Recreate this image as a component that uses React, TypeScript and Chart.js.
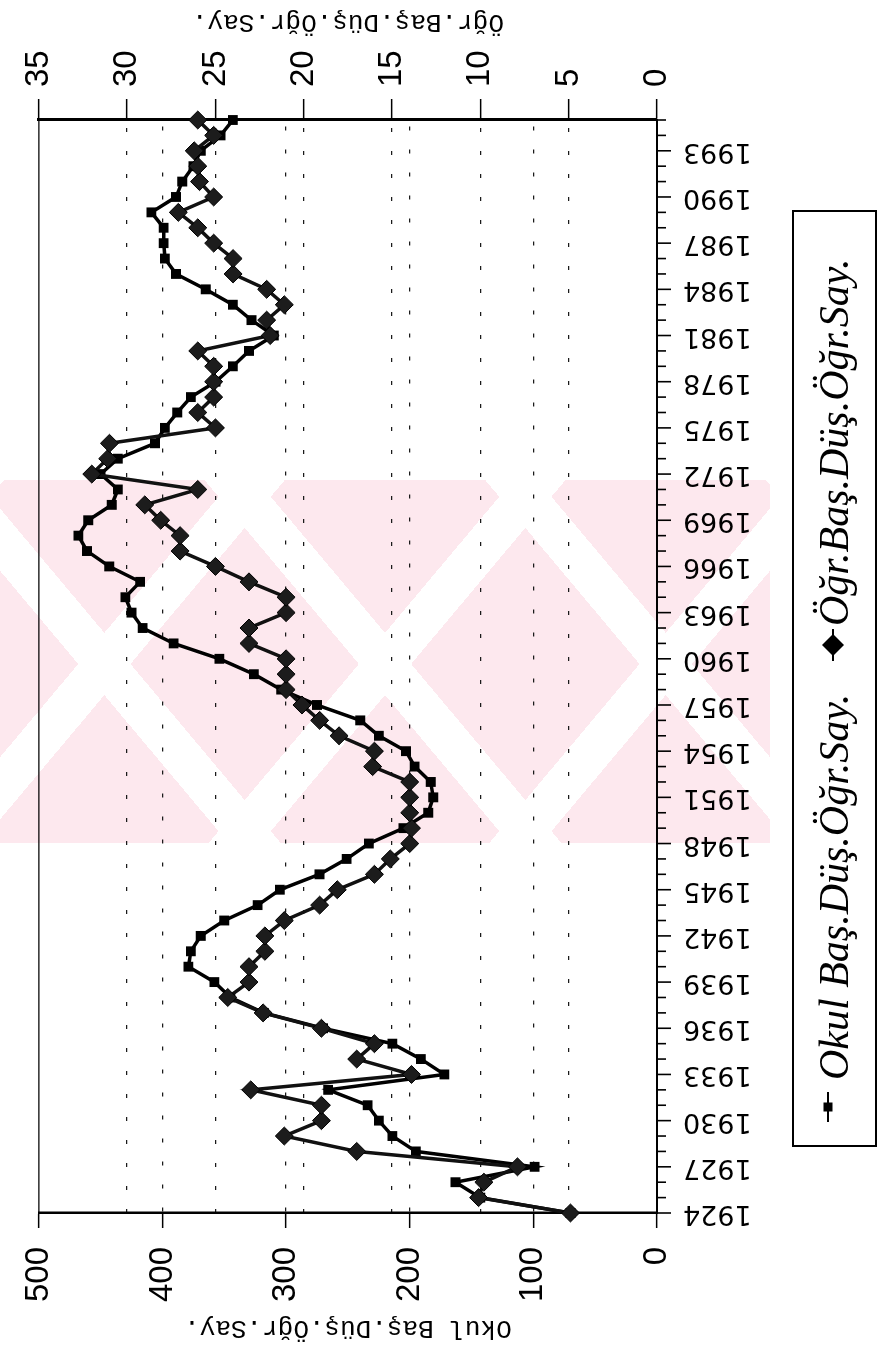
import React, { useEffect, useRef } from 'react';
import { Chart, registerables } from 'chart.js';

Chart.register(...registerables);

const years = [
  '1924', '1925', '1926', '1927', '1928', '1929', '1930', '1931', '1932', '1933',
  '1934', '1935', '1936', '1937', '1938', '1939', '1940', '1941', '1942', '1943',
  '1944', '1945', '1946', '1947', '1948', '1949', '1950', '1951', '1952', '1953',
  '1954', '1955', '1956', '1957', '1958', '1959', '1960', '1961', '1962', '1963',
  '1964', '1965', '1966', '1967', '1968', '1969', '1970', '1971', '1972', '1973',
  '1974', '1975', '1976', '1977', '1978', '1979', '1980', '1981', '1982', '1983',
  '1984', '1985', '1986', '1987', '1988', '1989', '1990', '1991', '1992', '1993',
  '1994', '1995',
];

// Okul Baş.Düş.Öğr.Say. (left axis, 0-500)
const okulValues = [
  70, 143, 163, 99, 195, 214, 225, 234, 266, 172,
  191, 214, 270, 318, 345, 358, 379, 377, 369, 350,
  323, 305, 273, 251, 233, 205, 185, 181, 183, 196,
  203, 225, 240, 275, 304, 326, 354, 391, 416, 425,
  430, 418, 443, 461, 468, 460, 441, 436, 450, 436,
  406, 398, 388, 377, 357, 343, 330, 310, 328, 343,
  365, 389, 398, 399, 399, 409, 389, 384, 375, 369,
  353, 343,
];

// Öğr.Baş.Düş.Öğr.Say. (right axis, 0-35)
const ogrValues = [
  4.9, 10.1, 9.8, 7.9, 17.0, 21.1, 19.0, 19.0, 23.0, 13.9,
  17.0, 16.0, 19.0, 22.3, 24.3, 23.1, 23.1, 22.2, 22.2, 21.1,
  19.1, 18.1, 16.0, 15.1, 14.0, 13.9, 14.0, 14.0, 14.0, 16.1,
  16.0, 18.0, 19.1, 20.1, 21.0, 21.0, 21.0, 23.1, 23.1, 21.0,
  21.0, 23.1, 25.0, 27.0, 27.0, 28.1, 29.0, 26.0, 32.0, 31.1,
  31.0, 25.0, 26.0, 25.1, 25.1, 25.1, 26.0, 21.9, 22.1, 21.1,
  22.1, 24.0, 24.0, 25.1, 26.0, 27.1, 25.1, 25.9, 26.0, 26.2,
  25.1, 26.0,
];

const okulTickValues = [0, 100, 200, 300, 400, 500];
const ogrTickValues = [0, 5, 10, 15, 20, 25, 30, 35];

const okulLabel = 'Okul Baş.Düş.Öğr.Say.';
const ogrLabel = 'Öğr.Baş.Düş.Öğr.Say.';

const W = 1355;
const H = 880;

const decorPlugin = {
  id: 'decor',
  afterDraw(chart: any) {
    const { ctx, chartArea, scales } = chart;
    const xs = scales.x;
    ctx.save();
    // thin frame line (top of plot area)
    ctx.strokeStyle = '#000';
    ctx.lineWidth = 1.2;
    ctx.beginPath();
    ctx.moveTo(chartArea.left, chartArea.top);
    ctx.lineTo(chartArea.right, chartArea.top);
    ctx.stroke();

    // year tick marks: minor each year, major every 3 years
    ctx.lineWidth = 1.6;
    for (let i = 0; i < years.length; i++) {
      const px = xs.getPixelForValue(i);
      const len = i % 3 === 0 ? 14 : 9;
      ctx.beginPath();
      ctx.moveTo(px, chartArea.bottom);
      ctx.lineTo(px, chartArea.bottom + len);
      ctx.stroke();
    }

    // axis titles (both read bottom-to-top in canvas space)
    ctx.fillStyle = '#000';
    ctx.font = '26px "Liberation Mono"';
    ctx.textAlign = 'center';
    ctx.textBaseline = 'middle';
    const cy = (chartArea.top + chartArea.bottom) / 2;
    ctx.save();
    ctx.translate(27, cy);
    ctx.rotate(-Math.PI / 2);
    ctx.fillText(okulLabel, 0, 0);
    ctx.restore();
    ctx.save();
    ctx.translate(1333, cy);
    ctx.rotate(-Math.PI / 2);
    ctx.fillText(ogrLabel, 0, 0);
    ctx.restore();

    // legend box
    const bx1 = 209, bx2 = 1144, by1 = 793, by2 = 876;
    ctx.lineWidth = 2;
    ctx.strokeRect(bx1, by1, bx2 - bx1, by2 - by1);
    const baseY = 848;
    // Okul marker
    const m1 = 828;
    ctx.lineWidth = 2;
    ctx.beginPath();
    ctx.moveTo(233, m1);
    ctx.lineTo(263, m1);
    ctx.stroke();
    ctx.fillRect(248 - 4.5, m1 - 4.5, 9, 9);
    ctx.font = 'italic 42px "Liberation Serif"';
    ctx.textAlign = 'left';
    ctx.textBaseline = 'alphabetic';
    ctx.fillText(okulLabel, 275, baseY);
    // Öğr marker
    const m2 = 833;
    ctx.beginPath();
    ctx.moveTo(694, m2);
    ctx.lineTo(726, m2);
    ctx.stroke();
    ctx.beginPath();
    ctx.moveTo(710, m2 - 11);
    ctx.lineTo(721, m2);
    ctx.lineTo(710, m2 + 11);
    ctx.lineTo(699, m2);
    ctx.closePath();
    ctx.fill();
    ctx.fillText(ogrLabel, 729, baseY);
    ctx.restore();
  },
};

const gridColor = (edge: number) => (c: any) =>
  c.tick && (c.tick.value === 0 || c.tick.value === edge) ? 'rgba(0,0,0,0)' : '#1a1a1a';

export default function App() {
  const ref = useRef<HTMLCanvasElement | null>(null);

  useEffect(() => {
    if (!ref.current) return;
    const chart = new Chart(ref.current, {
      type: 'line',
      data: {
        labels: years,
        datasets: [
          {
            label: ogrLabel,
            data: ogrValues,
            yAxisID: 'y2',
            borderColor: '#111',
            backgroundColor: '#1c1c1c',
            borderWidth: 3.5,
            pointStyle: 'rectRot',
            pointRadius: 9,
            pointBorderWidth: 1,
            pointBorderColor: '#000',
            tension: 0,
            clip: false,
            order: 1,
          },
          {
            label: okulLabel,
            data: okulValues,
            yAxisID: 'y',
            borderColor: '#000',
            backgroundColor: '#000',
            borderWidth: 3.5,
            pointStyle: 'rect',
            pointRadius: 4.5,
            tension: 0,
            clip: false,
            order: 2,
          },
        ],
      },
      options: {
        responsive: false,
        animation: false,
        devicePixelRatio: 1,
        layout: { padding: { top: 25, left: 0, right: 0, bottom: 0 } },
        plugins: { legend: { display: false }, tooltip: { enabled: false } },
        scales: {
          x: {
            type: 'category',
            offset: false,
            grid: { display: false },
            border: { display: true, color: '#000', width: 2 },
            ticks: {
              autoSkip: false,
              minRotation: 90,
              maxRotation: 90,
              padding: 18,
              color: '#000',
              font: { family: 'DejaVu Sans', size: 27 },
              callback: (_v: any, i: number) => (i % 3 === 0 ? years[i] : ''),
            },
            afterFit: (s: any) => {
              s.height = 223;
            },
          },
          y: {
            position: 'left',
            min: 0,
            max: 500,
            afterBuildTicks: (s: any) => {
              s.ticks = okulTickValues.map((v) => ({ value: v }));
            },
            ticks: {
              padding: 19,
              color: '#000',
              font: { family: 'Liberation Sans', size: 33 },
            },
            grid: {
              color: gridColor(500),
              lineWidth: 1.3,
              tickLength: 15,
              tickColor: '#000',
              tickWidth: 1.5,
            },
            border: { display: true, color: '#000', width: 2.5, dash: [4, 19] },
            afterFit: (s: any) => {
              s.width = 142;
            },
          },
          y2: {
            position: 'right',
            min: 0,
            max: 35,
            afterBuildTicks: (s: any) => {
              s.ticks = ogrTickValues.map((v) => ({ value: v }));
            },
            ticks: {
              padding: 12,
              color: '#000',
              font: { family: 'Liberation Sans', size: 33 },
            },
            grid: {
              color: gridColor(35),
              lineWidth: 1.3,
              tickLength: 21,
              tickColor: '#000',
              tickWidth: 1.5,
            },
            border: { display: true, color: '#000', width: 3, dash: [4, 19] },
            afterFit: (s: any) => {
              s.width = 120;
            },
          },
        },
      },
      plugins: [decorPlugin],
    } as any);
    return () => chart.destroy();
  }, []);

  return (
    <div
      style={{
        position: 'fixed',
        left: 0,
        top: 0,
        width: 880,
        height: 1355,
        overflow: 'hidden',
        background: '#fff',
      }}
    >
      <div
        style={{
          position: 'absolute',
          left: 0,
          top: 480,
          width: 770,
          height: 363,
          backgroundColor: '#fde8ee',
          backgroundImage:
            'repeating-linear-gradient(50deg, rgba(255,255,255,0) 0px, rgba(255,255,255,0) 175px, #fff 175px, #fff 215px), repeating-linear-gradient(-50deg, rgba(255,255,255,0) 0px, rgba(255,255,255,0) 175px, #fff 175px, #fff 215px)',
        }}
      />
      <div
        style={{
          position: 'absolute',
          left: 0,
          top: 0,
          width: W,
          height: H,
          transformOrigin: '0 0',
          transform: `translateY(${W}px) rotate(-90deg)`,
        }}
      >
        <canvas ref={ref} width={W} height={H} style={{ display: 'block', width: W, height: H }} />
      </div>
    </div>
  );
}
